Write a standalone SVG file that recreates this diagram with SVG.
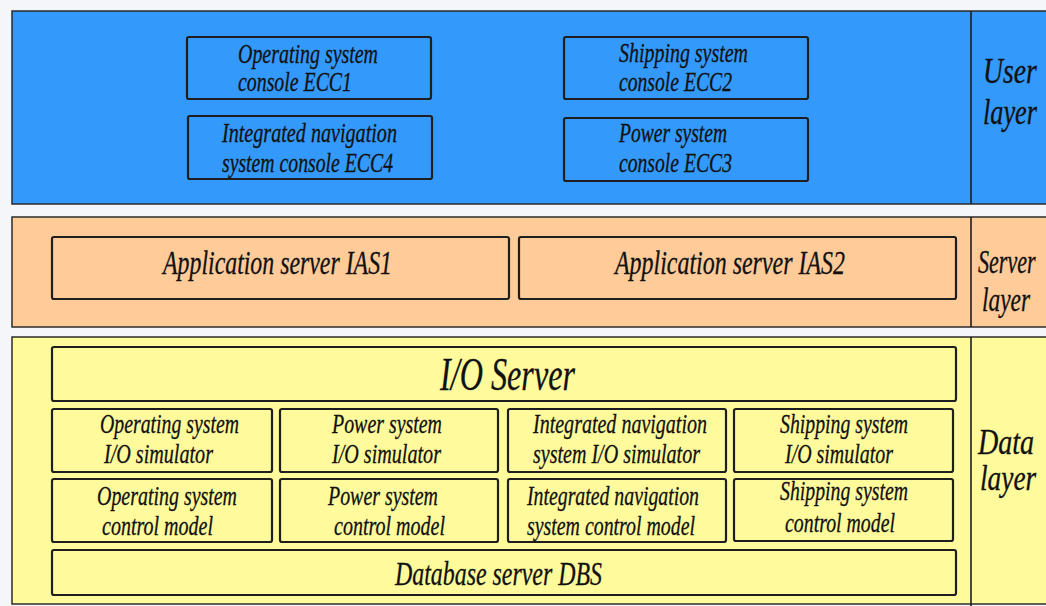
<svg xmlns="http://www.w3.org/2000/svg" width="1046" height="606" viewBox="0 0 1046 606">
  <style>
    .panel { stroke: #2b2b2b; stroke-width: 1.5; }
    .box { stroke: #1e1e1e; stroke-width: 2.2; }
    .blue { fill: #3399fb; }
    .orange { fill: #ffcb99; }
    .yellow { fill: #fffb9c; }
    .divider { stroke: #1e1e1e; stroke-width: 1.6; fill: none; }
    text { font-family: "Liberation Serif", "Times New Roman", serif; font-style: italic; fill: #111; stroke: #111; stroke-width: 0.3; }
    .s { font-size: 28px; }
    .m { font-size: 33px; }
    .l { font-size: 47px; }
    .side { font-size: 36px; }
  </style>
  <rect width="1046" height="606" fill="#f4f6f9"/>

  <!-- user layer -->
  <g id="user-layer">
    <rect class="panel blue" x="12" y="11" width="1036" height="193"/>
    <line class="divider" x1="971" y1="11" x2="971" y2="204"/>
    <text class="side" transform="translate(983 83) scale(0.77 1)">User</text>
    <text class="side" transform="translate(983 124) scale(0.73 1)">layer</text>
  </g>
  <g id="ecc1">
    <rect class="box blue" x="187" y="37" width="244" height="62" rx="2"/>
    <text class="s" x="238" y="63" textLength="140" lengthAdjust="spacingAndGlyphs">Operating system</text>
    <text class="s" x="238" y="91" textLength="114" lengthAdjust="spacingAndGlyphs">console ECC1</text>
  </g>
  <g id="ecc4">
    <rect class="box blue" x="188" y="116" width="244" height="63" rx="2"/>
    <text class="s" x="222" y="142" textLength="175" lengthAdjust="spacingAndGlyphs">Integrated navigation</text>
    <text class="s" x="222" y="172" textLength="171" lengthAdjust="spacingAndGlyphs">system console ECC4</text>
  </g>
  <g id="ecc2">
    <rect class="box blue" x="564" y="37" width="244" height="62" rx="2"/>
    <text class="s" x="619" y="62" textLength="129" lengthAdjust="spacingAndGlyphs">Shipping system</text>
    <text class="s" x="619" y="91" textLength="113" lengthAdjust="spacingAndGlyphs">console ECC2</text>
  </g>
  <g id="ecc3">
    <rect class="box blue" x="564" y="118" width="244" height="63" rx="2"/>
    <text class="s" x="619" y="142" textLength="108" lengthAdjust="spacingAndGlyphs">Power system</text>
    <text class="s" x="619" y="172" textLength="113" lengthAdjust="spacingAndGlyphs">console ECC3</text>
  </g>

  <!-- server layer -->
  <g id="server-layer">
    <rect class="panel orange" x="12" y="217" width="1036" height="110"/>
    <line class="divider" x1="971" y1="217" x2="971" y2="327"/>
    <text class="m" transform="translate(978 273) scale(0.67 1)">Server</text>
    <text class="m" transform="translate(982 311) scale(0.71 1)">layer</text>
  </g>
  <g id="ias1">
    <rect class="box orange" x="52" y="237" width="457" height="62" rx="2"/>
    <text class="m" x="163" y="274" textLength="229" lengthAdjust="spacingAndGlyphs">Application server IAS1</text>
  </g>
  <g id="ias2">
    <rect class="box orange" x="519" y="237" width="437" height="62" rx="2"/>
    <text class="m" x="615" y="274" textLength="230" lengthAdjust="spacingAndGlyphs">Application server IAS2</text>
  </g>

  <!-- data layer -->
  <g id="data-layer">
    <rect class="panel yellow" x="12" y="337" width="1036" height="267"/>
    <line class="divider" x1="971" y1="337" x2="971" y2="606"/>
    <text class="side" transform="translate(978 454) scale(0.78 1)">Data</text>
    <text class="side" transform="translate(980 490) scale(0.76 1)">layer</text>
  </g>
  <g id="io-server">
    <rect class="box yellow" x="52" y="347" width="904" height="54" rx="2"/>
    <text class="l" x="440" y="390" textLength="135" lengthAdjust="spacingAndGlyphs">I/O Server</text>
  </g>
  <g id="os-io-sim">
    <rect class="box yellow" x="52" y="409" width="220" height="63" rx="2"/>
    <text class="s" x="100" y="433" textLength="139" lengthAdjust="spacingAndGlyphs">Operating system</text>
    <text class="s" x="104" y="463" textLength="109" lengthAdjust="spacingAndGlyphs">I/O simulator</text>
  </g>
  <g id="ps-io-sim">
    <rect class="box yellow" x="280" y="409" width="218" height="63" rx="2"/>
    <text class="s" x="332" y="433" textLength="110" lengthAdjust="spacingAndGlyphs">Power system</text>
    <text class="s" x="332" y="463" textLength="109" lengthAdjust="spacingAndGlyphs">I/O simulator</text>
  </g>
  <g id="ins-io-sim">
    <rect class="box yellow" x="508" y="409" width="218" height="63" rx="2"/>
    <text class="s" x="533" y="433" textLength="174" lengthAdjust="spacingAndGlyphs">Integrated navigation</text>
    <text class="s" x="533" y="463" textLength="167" lengthAdjust="spacingAndGlyphs">system I/O simulator</text>
  </g>
  <g id="ss-io-sim">
    <rect class="box yellow" x="734" y="409" width="219" height="63" rx="2"/>
    <text class="s" x="780" y="433" textLength="128" lengthAdjust="spacingAndGlyphs">Shipping system</text>
    <text class="s" x="785" y="463" textLength="108" lengthAdjust="spacingAndGlyphs">I/O simulator</text>
  </g>
  <g id="os-ctrl">
    <rect class="box yellow" x="52" y="479" width="220" height="63" rx="2"/>
    <text class="s" x="97" y="505" textLength="140" lengthAdjust="spacingAndGlyphs">Operating system</text>
    <text class="s" x="102" y="535" textLength="111" lengthAdjust="spacingAndGlyphs">control model</text>
  </g>
  <g id="ps-ctrl">
    <rect class="box yellow" x="280" y="479" width="218" height="63" rx="2"/>
    <text class="s" x="328" y="505" textLength="110" lengthAdjust="spacingAndGlyphs">Power system</text>
    <text class="s" x="334" y="535" textLength="111" lengthAdjust="spacingAndGlyphs">control model</text>
  </g>
  <g id="ins-ctrl">
    <rect class="box yellow" x="508" y="479" width="218" height="63" rx="2"/>
    <text class="s" x="527" y="505" textLength="172" lengthAdjust="spacingAndGlyphs">Integrated navigation</text>
    <text class="s" x="527" y="535" textLength="168" lengthAdjust="spacingAndGlyphs">system control model</text>
  </g>
  <g id="ss-ctrl">
    <rect class="box yellow" x="734" y="479" width="219" height="62" rx="2"/>
    <text class="s" x="780" y="500" textLength="128" lengthAdjust="spacingAndGlyphs">Shipping system</text>
    <text class="s" x="785" y="532" textLength="110" lengthAdjust="spacingAndGlyphs">control model</text>
  </g>
  <g id="dbs">
    <rect class="box yellow" x="52" y="550" width="904" height="45" rx="2"/>
    <text class="m" x="395" y="585" textLength="207" lengthAdjust="spacingAndGlyphs">Database server DBS</text>
  </g>

  <!-- this layered view has no connectors -->
  <g id="connectors"/>
</svg>
